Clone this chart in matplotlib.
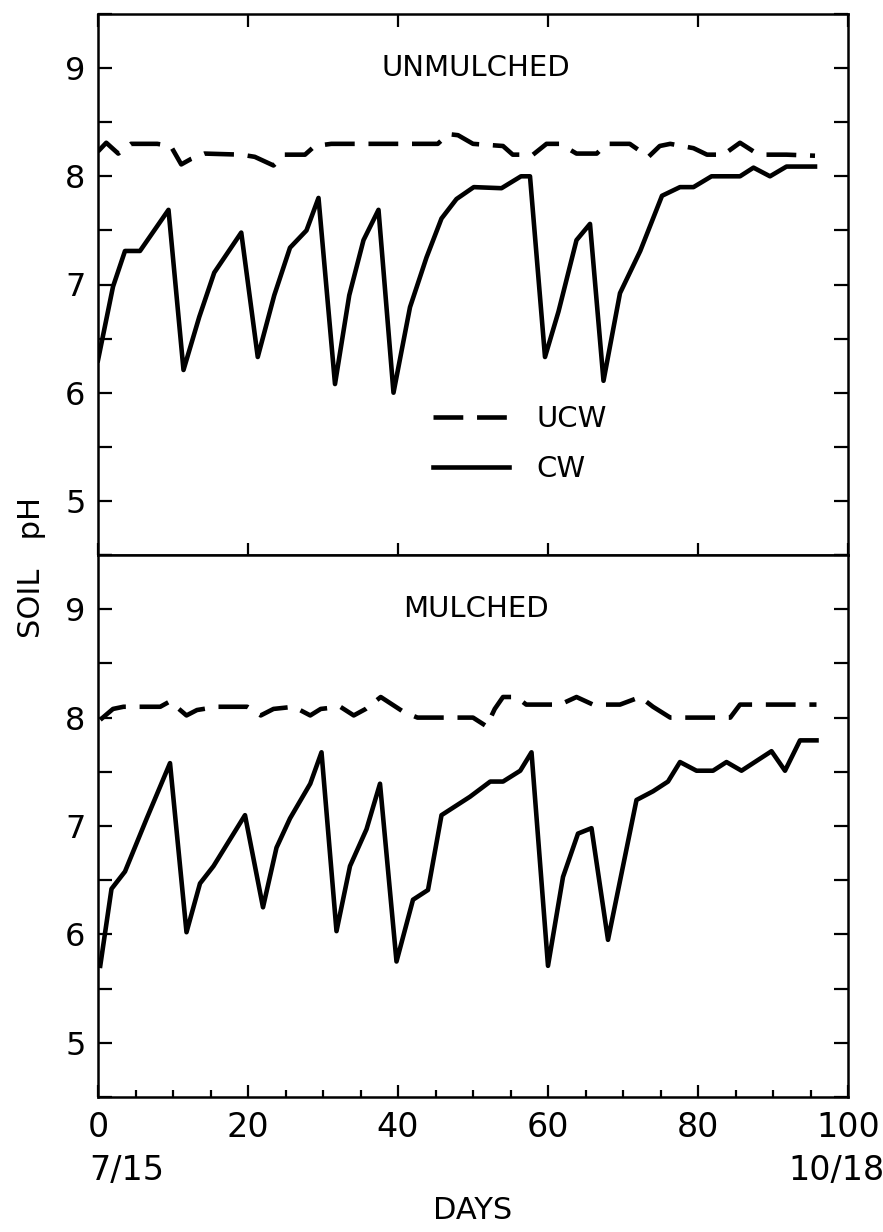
import matplotlib
matplotlib.use("Agg")
import matplotlib.pyplot as plt
from matplotlib.ticker import MultipleLocator

# top panel (unmulched)
unm_cw_day = [0, 2, 3.6, 5.6, 9.4, 11.4, 13.5, 15.5, 19.1, 21.3, 23.5, 25.6, 27.8, 29.4,
              31.6, 33.5, 35.4, 37.4, 39.4, 41.6, 43.8, 45.8, 47.8, 50.1, 53.8, 56.4, 57.6,
              59.6, 61.4, 63.8, 65.6, 67.4, 69.6, 72.3, 75.2, 77.6, 79.4, 81.8, 85.6, 87.4,
              89.6, 91.8, 95.6]
unm_cw_ph = [6.30, 6.98, 7.31, 7.31, 7.69, 6.21, 6.70, 7.11, 7.48, 6.33, 6.90, 7.34, 7.50, 7.80,
             6.08, 6.90, 7.41, 7.69, 6.00, 6.79, 7.25, 7.61, 7.79, 7.90, 7.89, 8.00, 8.00,
             6.33, 6.75, 7.41, 7.56, 6.11, 6.92, 7.31, 7.82, 7.90, 7.90, 8.00, 8.00, 8.08,
             8.00, 8.09, 8.09]

unm_ucw_day = [0, 1.1, 2.7, 4.4, 7.9, 9.7, 11.1, 12.4, 14.2, 19.1, 20.9, 23.4, 24.9, 27.6,
               28.9, 31.1, 45.3, 46.7, 48.0, 50.0, 54.0, 55.3, 58.0, 59.8, 61.6, 63.8, 66.5,
               67.8, 70.9, 73.4, 74.9, 76.3, 79.4, 81.2, 83.4, 85.6, 87.4, 89.0, 91.8, 95.6]
unm_ucw_ph = [8.23, 8.31, 8.21, 8.30, 8.30, 8.28, 8.11, 8.16, 8.21, 8.20, 8.18, 8.10, 8.20, 8.20,
              8.28, 8.30, 8.30, 8.39, 8.38, 8.30, 8.28, 8.20, 8.20, 8.30, 8.30, 8.21, 8.21,
              8.30, 8.30, 8.18, 8.28, 8.30, 8.26, 8.20, 8.20, 8.31, 8.23, 8.20, 8.20, 8.19]

# bottom panel (mulched)
mul_cw_day = [0.3, 1.8, 3.6, 6.5, 9.6, 11.8, 13.6, 15.4, 19.6, 22.0, 23.8, 25.6, 28.3, 29.8,
              31.8, 33.6, 35.8, 37.6, 39.8, 42.0, 44.0, 45.8, 49.6, 52.3, 54.0, 56.3, 57.8,
              60.0, 62.0, 64.0, 65.8, 68.0, 71.8, 74.0, 76.0, 77.6, 79.8, 82.0, 83.8, 85.8,
              89.8, 91.6, 93.6, 95.8]
mul_cw_ph = [5.71, 6.42, 6.58, 7.07, 7.58, 6.02, 6.47, 6.63, 7.10, 6.25, 6.80, 7.07, 7.39, 7.68,
             6.03, 6.63, 6.97, 7.39, 5.75, 6.32, 6.41, 7.10, 7.27, 7.41, 7.41, 7.51, 7.68,
             5.71, 6.53, 6.93, 6.98, 5.95, 7.24, 7.32, 7.41, 7.59, 7.51, 7.51, 7.59, 7.51,
             7.69, 7.51, 7.79, 7.79]

mul_ucw_day = [0.3, 2.0, 3.4, 8.3, 9.6, 11.8, 13.2, 15.9, 19.9, 21.7, 23.4, 26.1, 28.3, 29.7,
               32.3, 34.1, 35.7, 37.7, 40.8, 42.6, 50.0, 51.8, 52.9, 54.0, 55.8, 57.1, 61.6,
               63.8, 66.0, 69.6, 72.3, 74.0, 76.3, 84.3, 85.6, 95.8]
mul_ucw_ph = [7.98, 8.08, 8.10, 8.10, 8.15, 8.02, 8.07, 8.10, 8.10, 8.02, 8.08, 8.10, 8.02, 8.08,
              8.10, 8.02, 8.08, 8.19, 8.05, 8.00, 8.00, 7.92, 8.08, 8.19, 8.19, 8.12, 8.12,
              8.19, 8.12, 8.12, 8.19, 8.10, 8.00, 8.00, 8.12, 8.12]

W, H = 883, 1232
fig = plt.figure(figsize=(W / 100, H / 100), dpi=100)
ax1 = fig.add_axes([98 / W, 1 - 555 / H, 750 / W, 541 / H])
ax2 = fig.add_axes([98 / W, 1 - 1097 / H, 750 / W, 542 / H])

dash = (6.5, 3)
lw = 3.3

ax1.plot(unm_ucw_day, unm_ucw_ph, color='black', lw=lw, dashes=dash, label='UCW')
ax1.plot(unm_cw_day, unm_cw_ph, color='black', lw=lw, label='CW')
ax2.plot(mul_ucw_day, mul_ucw_ph, color='black', lw=lw, dashes=dash)
ax2.plot(mul_cw_day, mul_cw_ph, color='black', lw=lw)

for ax in (ax1, ax2):
    ax.set_xlim(0, 100)
    ax.set_ylim(4.5, 9.5)
    ax.set_xticks([0, 20, 40, 60, 80, 100])
    ax.set_yticks([5, 6, 7, 8, 9])
    ax.yaxis.set_minor_locator(MultipleLocator(0.5))
    ax.tick_params(axis='y', which='both', direction='in', left=True, right=True,
                   length=10, width=1.6, labelsize=23, pad=9)
    for s in ax.spines.values():
        s.set_linewidth(1.8)

ax1.tick_params(axis='x', which='major', direction='in', top=True, bottom=True,
                labelbottom=False, length=9, width=1.6)
ax2.xaxis.set_minor_locator(MultipleLocator(5))
ax2.tick_params(axis='x', which='major', direction='in', top=False, length=9, width=1.6,
                labelsize=24, pad=10)
ax2.tick_params(axis='x', which='minor', direction='in', top=False, length=5, width=1.6)

ax1.text(0.504, 0.9, 'UNMULCHED', transform=ax1.transAxes, ha='center', va='center',
         fontsize=21)
ax2.text(0.504, 0.9, 'MULCHED', transform=ax2.transAxes, ha='center', va='center',
         fontsize=21)

leg = ax1.legend(loc='upper left', bbox_to_anchor=(0.412, 0.325), frameon=False,
                 fontsize=21, handlelength=2.6, handletextpad=0.95, labelspacing=0.75)

ax2.text(3.8, -0.135, '7/15', transform=ax2.get_xaxis_transform(), ha='center',
         va='center', fontsize=24)
ax2.text(98.4, -0.135, '10/18', transform=ax2.get_xaxis_transform(), ha='center',
         va='center', fontsize=24)
ax2.set_xlabel('DAYS', fontsize=22)
ax2.xaxis.set_label_coords(0.5, -0.183)

fig.text(31 / W, 1 - 567 / H, 'SOIL   pH', rotation=90, ha='center', va='center',
         fontsize=22)

fig.savefig('out.png', dpi=100)
